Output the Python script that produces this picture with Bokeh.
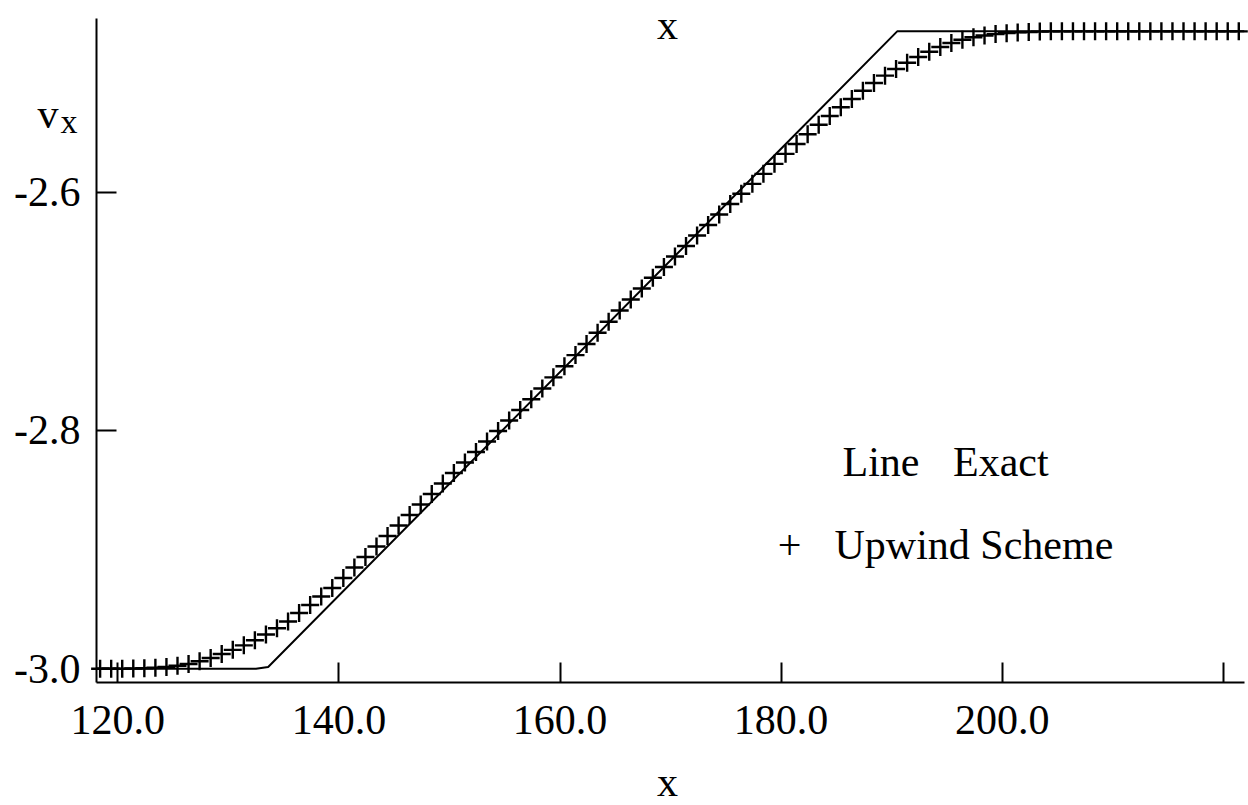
from bokeh.plotting import figure
from bokeh.models import Range1d, FixedTicker, NumeralTickFormatter, Label
from bokeh.embed import file_html
from bokeh.resources import INLINE

# ---------------- data ----------------
x_exact = [118.07, 132.5, 133.6, 190.5, 221.9]
v_exact = [-3.0, -3.0, -2.9985, -2.465, -2.465]

x_upwind = [
    118.4, 119.4, 120.4, 121.4, 122.4, 123.4, 124.4, 125.4, 126.4, 127.4,
    128.4, 129.4, 130.4, 131.4, 132.4, 133.4, 134.4, 135.4, 136.4, 137.4,
    138.4, 139.4, 140.4, 141.4, 142.4, 143.4, 144.4, 145.4, 146.4, 147.4,
    148.4, 149.4, 150.4, 151.4, 152.4, 153.4, 154.4, 155.4, 156.4, 157.4,
    158.4, 159.4, 160.4, 161.4, 162.4, 163.4, 164.4, 165.4, 166.4, 167.4,
    168.4, 169.4, 170.4, 171.4, 172.4, 173.4, 174.4, 175.4, 176.4, 177.4,
    178.4, 179.4, 180.4, 181.4, 182.4, 183.4, 184.4, 185.4, 186.4, 187.4,
    188.4, 189.4, 190.4, 191.4, 192.4, 193.4, 194.4, 195.4, 196.4, 197.4,
    198.4, 199.4, 200.4, 201.4, 202.4, 203.4, 204.4, 205.4, 206.4, 207.4,
    208.4, 209.4, 210.4, 211.4, 212.4, 213.4, 214.4, 215.4, 216.4, 217.4,
    218.4, 219.4, 220.4, 221.4,
]
v_upwind = [
    -3.0000, -3.0000, -2.9999, -2.9997, -2.9995, -2.9991, -2.9985, -2.9975, -2.9960, -2.9937,
    -2.9909, -2.9876, -2.9841, -2.9803, -2.9761, -2.9712, -2.9660, -2.9603, -2.9532, -2.9465,
    -2.9393, -2.9322, -2.9238, -2.9150, -2.9062, -2.8974, -2.8885, -2.8797, -2.8709, -2.8621,
    -2.8533, -2.8445, -2.8357, -2.8269, -2.8180, -2.8092, -2.8004, -2.7916, -2.7828, -2.7738,
    -2.7648, -2.7554, -2.7461, -2.7367, -2.7274, -2.7180, -2.7087, -2.6993, -2.6901, -2.6808,
    -2.6718, -2.6628, -2.6540, -2.6452, -2.6363, -2.6275, -2.6187, -2.6099, -2.6013, -2.5930,
    -2.5846, -2.5762, -2.5678, -2.5595, -2.5514, -2.5434, -2.5360, -2.5287, -2.5218, -2.5149,
    -2.5084, -2.5022, -2.4966, -2.4914, -2.4865, -2.4821, -2.4781, -2.4748, -2.4721, -2.4700,
    -2.4685, -2.4673, -2.4665, -2.4659, -2.4655, -2.4652, -2.4650, -2.4650, -2.4650, -2.4650,
    -2.4650, -2.4650, -2.4650, -2.4650, -2.4650, -2.4650, -2.4650, -2.4650, -2.4650, -2.4650,
    -2.4650, -2.4650, -2.4650, -2.4650,
]

x_ticks = [120, 140, 160, 180, 200, 220]
y_ticks = [-3.0, -2.8, -2.6]

# ---------------- layout ----------------
FONT = "Liberation Serif"
W, H = 1248, 805
# the frame covers the whole canvas; axes are pinned with fixed_location
X0, X1 = 109.389, 222.279
Y0, Y1 = -3.11473, -2.43911
AX_X = 118.073      # where the y axis stands
AX_Y = -3.0115      # where the x axis lies
X_END = 221.92
Y_END = -2.45422

p = figure(width=W, height=H, output_backend="svg", toolbar_location=None,
           x_range=Range1d(X0, X1), y_range=Range1d(Y0, Y1),
           min_border=0, min_border_left=0, min_border_right=0,
           min_border_top=0, min_border_bottom=0)
p.outline_line_color = None
p.xgrid.visible = False
p.ygrid.visible = False
p.background_fill_color = "white"
p.border_fill_color = "white"

for ax in (p.xaxis[0], p.yaxis[0]):
    ax.axis_line_color = "black"
    ax.axis_line_width = 2
    ax.major_tick_line_color = "black"
    ax.major_tick_line_width = 2
    ax.major_tick_in = 20
    ax.major_tick_out = 0
    ax.minor_tick_line_color = None
    ax.major_label_text_font = FONT
    ax.major_label_text_font_size = "42px"
    ax.major_label_text_color = "black"
    ax.formatter = NumeralTickFormatter(format="0.0")

xa = p.xaxis[0]
ya = p.yaxis[0]
xa.ticker = FixedTicker(ticks=x_ticks)
ya.ticker = FixedTicker(ticks=y_ticks)
xa.major_label_overrides = {220: ""}
xa.fixed_location = AX_Y
ya.fixed_location = AX_X
xa.bounds = (AX_X, X_END)
ya.bounds = (AX_Y, Y_END)
xa.major_label_standoff = 23
ya.major_label_standoff = 16

p.line(x_exact, v_exact, line_color="black", line_width=2)
p.scatter(x_upwind, v_upwind, marker="cross", size=18, line_color="black", line_width=2.4)

SHIFT = 14  # rendered baseline sits this much lower than requested


def dx(px):
    return X0 + px / W * (X1 - X0)


def dy(py):
    return Y1 - (py - SHIFT) / H * (Y1 - Y0)


def lab(text, px, py, size="42px", align="left"):
    p.add_layout(Label(x=dx(px), y=dy(py), text=text, text_font=FONT,
                       text_font_size=size, text_align=align,
                       text_baseline="alphabetic", text_color="black"))


lab("v", 37, 127)
lab("x", 60, 135, size="34px")
lab("x", 667, 38, align="center")
lab("x", 667, 795, align="center")
lab("Line", 842, 475)
lab("Exact", 952.5, 475)
lab("+", 789, 558, align="center")
lab("Upwind Scheme", 834, 558)

open("out.html", "w").write(file_html(p, INLINE))
